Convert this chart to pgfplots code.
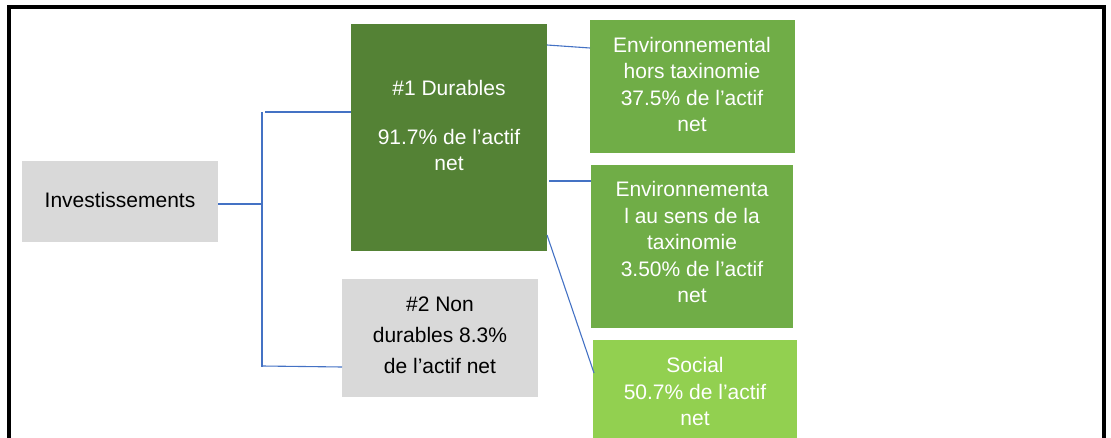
\documentclass[border=0pt]{standalone}
\usepackage{pgfplots}
\pgfplotsset{compat=1.18}
\usepackage{fontspec}
\setmainfont{Liberation Sans}
\definecolor{dgreen}{HTML}{548235}
\definecolor{mgreen}{HTML}{70AD47}
\definecolor{lgreen}{HTML}{92D050}
\definecolor{lgray}{HTML}{D9D9D9}
\definecolor{lblue}{HTML}{4472C4}
\tikzset{lbl/.style={anchor=base,font=\fontsize{21}{25}\selectfont,inner sep=0pt},
  conn/.style={lblue,line width=1.1pt}}
\begin{document}
\begin{tikzpicture}
\begin{axis}[width=1111pt,height=438pt,scale only axis,
  xmin=0,xmax=1111,ymin=0,ymax=438,y dir=reverse,hide axis,clip=true]
\addplot[draw=none] coordinates {(0,0)(1111,438)};
% outer frame
\addplot[black,line width=3.2pt] coordinates {(9,440)(9,7)(1104,7)(1104,440)};
% boxes
\addplot[fill=lgray,draw=none] coordinates {(22,161)(218,161)(218,242)(22,242)} -- cycle;
\addplot[fill=dgreen,draw=none] coordinates {(351,24)(547,24)(547,251)(351,251)} -- cycle;
\addplot[fill=lgray,draw=none] coordinates {(342,279)(538,279)(538,397)(342,397)} -- cycle;
\addplot[fill=mgreen,draw=none] coordinates {(590,20)(795,20)(795,153)(590,153)} -- cycle;
\addplot[fill=mgreen,draw=none] coordinates {(591,165)(793,165)(793,328)(591,328)} -- cycle;
\addplot[fill=lgreen,draw=none] coordinates {(593,340)(797,340)(797,440)(593,440)} -- cycle;
% connectors
\addplot[conn] coordinates {(218,204)(262,204)};
\addplot[conn] coordinates {(262,112)(262,367)};
\addplot[conn] coordinates {(265,112)(351,112)};
\addplot[conn] coordinates {(262,366)(342,367)};
\addplot[conn] coordinates {(547,45)(590,48)};
\addplot[conn] coordinates {(549,181)(591,181)};
\addplot[conn] coordinates {(547,235)(594,373)};
% texts
\node[lbl,text=black] at (axis cs:120,208) {Investissements};
\node[lbl,text=white] at (axis cs:449,96) {\#1 Durables};
\node[lbl,text=white] at (axis cs:449,145) {91.7\% de l’actif};
\node[lbl,text=white] at (axis cs:449,171) {net};
\node[lbl,text=black] at (axis cs:440,312) {\#2 Non};
\node[lbl,text=black] at (axis cs:440,342) {durables 8.3\%};
\node[lbl,text=black] at (axis cs:440,373) {de l’actif net};
\node[lbl,text=white] at (axis cs:692,53) {Environnemental};
\node[lbl,text=white] at (axis cs:692,79) {hors taxinomie};
\node[lbl,text=white] at (axis cs:692,106) {37.5\% de l’actif};
\node[lbl,text=white] at (axis cs:692,132) {net};
\node[lbl,text=white] at (axis cs:692,197) {Environnementa};
\node[lbl,text=white] at (axis cs:692,224) {l au sens de la};
\node[lbl,text=white] at (axis cs:692,250) {taxinomie};
\node[lbl,text=white] at (axis cs:692,277) {3.50\% de l’actif};
\node[lbl,text=white] at (axis cs:692,303) {net};
\node[lbl,text=white] at (axis cs:695,372) {Social};
\node[lbl,text=white] at (axis cs:695,399) {50.7\% de l’actif};
\node[lbl,text=white] at (axis cs:695,425) {net};
\end{axis}
\end{tikzpicture}
\end{document}
